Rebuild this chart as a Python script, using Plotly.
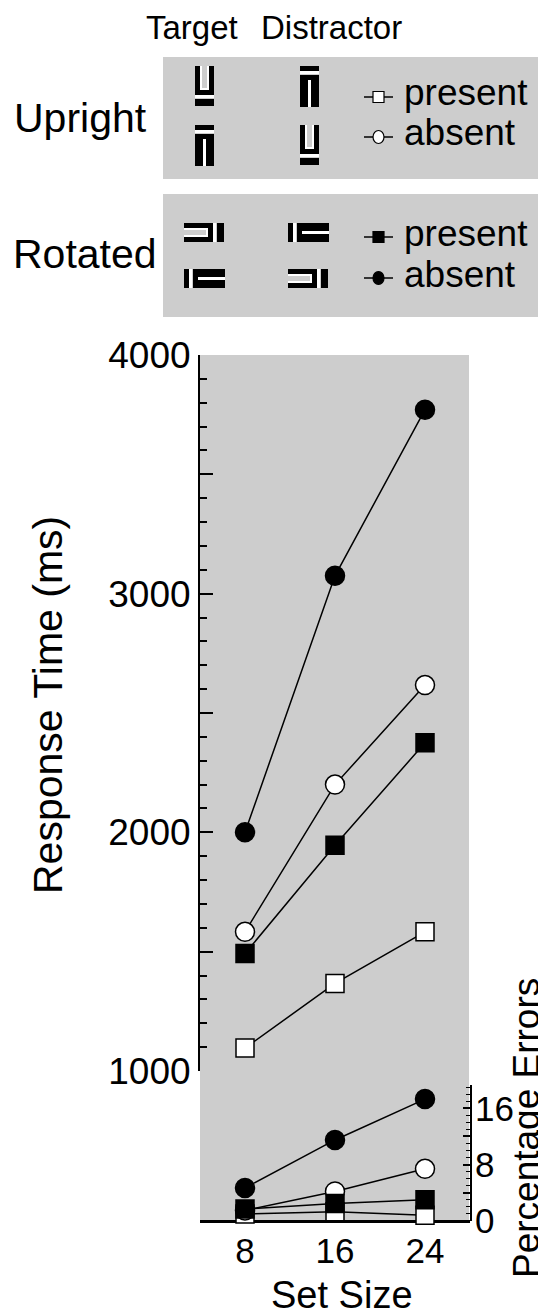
import plotly.graph_objects as go

# ---------------- data ----------------
set_sizes = [8, 16, 24]
rt_upright_present = [1096, 1367, 1583]
rt_upright_absent = [1583, 2200, 2617]
rt_rotated_present = [1492, 1946, 2375]
rt_rotated_absent = [2000, 3075, 3771]
err_upright_present = [1.0, 1.3, 0.8]
err_upright_absent = [1.5, 4.2, 7.4]
err_rotated_present = [1.7, 2.5, 3.0]
err_rotated_absent = [4.7, 11.5, 17.3]
rt_major = [1000, 2000, 3000, 4000]
err_major = [0, 8, 16]

GRAY = "#cdcdcd"
FONT = "Liberation Sans, Arial, Helvetica, sans-serif"

W, H = 546, 1313          # browser window
OFF = 8                   # default body margin of the html page
L, R, T, B = 200, 470, 355, 1221   # plot area in page pixels


def px(x):
    return (x - L) / (R - L)


def py(y):
    return (B - y) / (B - T)


fig = go.Figure()

styles = {
    "up_present": dict(symbol="square", color="white", size=18),
    "up_absent": dict(symbol="circle", color="white", size=19),
    "rot_present": dict(symbol="square", color="black", size=18),
    "rot_absent": dict(symbol="circle", color="black", size=19),
}

rt_series = [("up_present", rt_upright_present), ("up_absent", rt_upright_absent),
             ("rot_present", rt_rotated_present), ("rot_absent", rt_rotated_absent)]
err_series = [("up_present", err_upright_present), ("up_absent", err_upright_absent),
              ("rot_present", err_rotated_present), ("rot_absent", err_rotated_absent)]

for key, vals in rt_series:
    st = styles[key]
    fig.add_trace(go.Scatter(
        x=set_sizes, y=vals, mode="lines+markers", xaxis="x", yaxis="y",
        line=dict(color="black", width=1.5), cliponaxis=False, showlegend=False,
        marker=dict(symbol=st["symbol"], color=st["color"], size=st["size"],
                    line=dict(color="black", width=1.5))))

for key, vals in err_series:
    st = styles[key]
    fig.add_trace(go.Scatter(
        x=set_sizes, y=vals, mode="lines+markers", xaxis="x", yaxis="y2",
        line=dict(color="black", width=1.5), cliponaxis=False, showlegend=False,
        marker=dict(symbol=st["symbol"], color=st["color"], size=st["size"],
                    line=dict(color="black", width=1.5))))

shapes = []
# gray plot background
shapes.append(dict(type="rect", xref="paper", yref="paper", x0=0, x1=px(469), y0=0, y1=1,
                   fillcolor=GRAY, line=dict(width=0), layer="below"))
# legend panels
for (y0, y1) in [(57, 179), (194, 317)]:
    shapes.append(dict(type="rect", xref="paper", yref="paper", x0=px(163), x1=px(560),
                       y0=py(y1), y1=py(y0), fillcolor=GRAY, line=dict(width=0), layer="below"))

# stimulus icons (upright box 19 x 41)
A_rects = [
    (0, 0, 5, 29, "black"), (14, 0, 19, 29, "black"), (0, 24, 19, 29, "black"),
    (5, 0, 7, 24, "white"), (12, 0, 14, 24, "white"), (5, 22, 14, 24, "white"),
    (0, 29, 19, 32, "white"), (0, 33, 19, 40, "black"),
]
B_rects = [
    (0, 0, 19, 5, "black"), (0, 5, 19, 8, "white"), (0, 9, 19, 14, "black"),
    (0, 14, 8, 41, "black"), (11, 14, 19, 41, "black"), (8, 14, 11, 41, "white"),
]


def icon(rects, x0, y0, rotated):
    for (u0, v0, u1, v1, c) in rects:
        if rotated:
            a0, b0, a1, b1 = v0, 19 - u1, v1, 19 - u0
        else:
            a0, b0, a1, b1 = u0, v0, u1, v1
        shapes.append(dict(type="rect", xref="paper", yref="paper",
                           x0=px(x0 + a0), x1=px(x0 + a1), y0=py(y0 + b1), y1=py(y0 + b0),
                           fillcolor=c, line=dict(width=0)))


icon(A_rects, 195, 66, False)
icon(B_rects, 195, 125, False)
icon(B_rects, 300, 66, False)
icon(A_rects, 300, 125, False)
icon(A_rects, 184, 223, True)
icon(B_rects, 184, 269, True)
icon(B_rects, 288, 223, True)
icon(A_rects, 288, 269, True)

# legend samples
legend_items = [(97, "square", "white"), (137, "circle", "white"),
                (237, "square", "black"), (278, "circle", "black")]
for (yy, sym, col) in legend_items:
    shapes.append(dict(type="line", xref="paper", yref="paper", x0=px(364), x1=px(393),
                       y0=py(yy), y1=py(yy), line=dict(color="black", width=1.5)))
    if sym == "square":
        shapes.append(dict(type="rect", xref="paper", yref="paper", x0=px(373), x1=px(384),
                           y0=py(yy + 5.5), y1=py(yy - 5.5), fillcolor=col,
                           line=dict(color="black", width=1.2)))
    else:
        shapes.append(dict(type="circle", xref="paper", yref="paper", x0=px(373), x1=px(384),
                           y0=py(yy + 6.5), y1=py(yy - 6.5), fillcolor=col,
                           line=dict(color="black", width=1.2)))

annotations = []


def txt(text, x, y, size, angle=0, xanchor="center"):
    annotations.append(dict(text=text, x=px(x), y=py(y), xref="paper", yref="paper",
                            showarrow=False, xanchor=xanchor, yanchor="middle",
                            textangle=angle, font=dict(size=size, color="black", family=FONT)))


txt("Target", 192, 28, 33)
txt("Distractor", 331, 28, 33)
txt("Upright", 80, 118, 41)
txt("Rotated", 85, 254, 41)
for (yy, lab) in [(97, "present"), (137, "absent"), (237, "present"), (278, "absent")]:
    txt(lab, 402, yy - 4, 37, xanchor="left")
txt("Response Time (ms)", 48, 705, 41, angle=-90)
txt("Percentage Errors", 526, 1128, 37, angle=-90)
txt("Set Size", 342, 1295, 38)

rt_tickvals = list(range(1000, 4001, 500))
rt_ticktext = [str(v) if v in rt_major else "" for v in rt_tickvals]
err_tickvals = [0, 4, 8, 12, 16]
err_ticktext = [str(v) if v in err_major else "" for v in err_tickvals]

fig.update_layout(
    width=W - OFF, height=H - OFF,
    margin=dict(l=L - OFF, r=W - R, t=T - OFF, b=H - B, pad=0),
    paper_bgcolor="white", plot_bgcolor="rgba(0,0,0,0)",
    showlegend=False,
    font=dict(family=FONT, color="black"),
    shapes=shapes, annotations=annotations,
    xaxis=dict(domain=[0, 1], range=[4, 28], anchor="free", position=0,
               showline=True, linewidth=3, linecolor="black", ticks="",
               tickvals=set_sizes, tickfont=dict(size=35), showgrid=False, zeroline=False,
               ticklabelstandoff=-2),
    yaxis=dict(domain=[py(1071), 1], range=[1000, 4000], anchor="x",
               showline=True, linewidth=2, linecolor="black",
               ticks="inside", ticklen=13, tickwidth=2, tickcolor="black",
               tickvals=rt_tickvals, ticktext=rt_ticktext, tickfont=dict(size=37),
               minor=dict(dtick=100, tick0=0, ticks="inside", ticklen=7, tickwidth=2,
                          tickcolor="black", showgrid=False),
               showgrid=False, zeroline=False, ticklabelstandoff=0),
    yaxis2=dict(domain=[0, py(1085)], range=[0, 19.3], anchor="x", side="right",
                showline=True, linewidth=2, linecolor="black",
                ticks="inside", ticklen=7, tickwidth=1.5, tickcolor="black",
                tickvals=err_tickvals, ticktext=err_ticktext, tickfont=dict(size=35),
                minor=dict(dtick=1, tick0=0, ticks="inside", ticklen=4, tickwidth=1.2,
                           tickcolor="black", showgrid=False),
                showgrid=False, zeroline=False, ticklabelstandoff=-4),
)

fig.write_html("out.html")
